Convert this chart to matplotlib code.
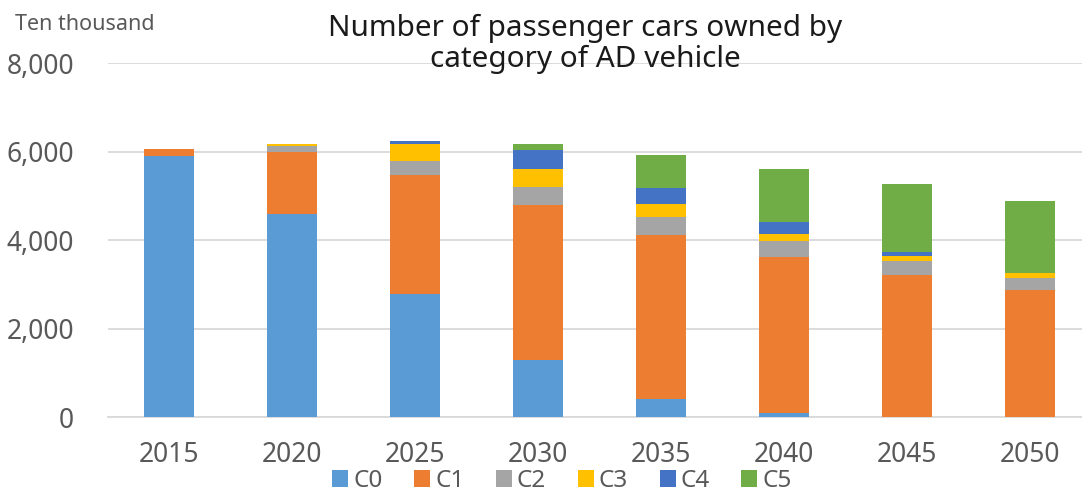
import matplotlib
matplotlib.use("Agg")
import matplotlib.pyplot as plt
import numpy as np

years = ["2015", "2020", "2025", "2030", "2035", "2040", "2045", "2050"]
series_names = ["C0", "C1", "C2", "C3", "C4", "C5"]
c0 = [5907, 4600, 2773, 1292, 406, 104, 0, 0]
c1 = [140, 1380, 2690, 3502, 3705, 3517, 3224, 2870]
c2 = [0, 135, 316, 406, 412, 361, 307, 278]
c3 = [0, 60, 383, 399, 302, 167, 106, 99]
c4 = [0, 0, 75, 428, 352, 261, 106, 0]
c5 = [0, 0, 0, 135, 737, 1204, 1533, 1637]
yticks = [0, 2000, 4000, 6000, 8000]

colors = ["#5B9BD5", "#ED7D31", "#A5A5A5", "#FFC000", "#4472C4", "#70AD47"]
font = ["Noto Sans", "DejaVu Sans"]
plt.rcParams["font.family"] = font

W, H = 1082, 492
fig = plt.figure(figsize=(W / 100, H / 100), dpi=100)
ax = fig.add_axes([107.5 / W, (H - 417.3) / H, (W - 107.5) / W, (417.3 - 63) / H])

x = np.arange(len(years))
bottom = np.zeros(len(years))
for name, vals, col in zip(series_names, [c0, c1, c2, c3, c4, c5], colors):
    vals = np.array(vals, dtype=float)
    ax.bar(x, vals, bottom=bottom, width=0.4, color=col, label=name, zorder=3)
    bottom += vals

ax.set_xlim(-0.5, -0.5 + (W - 107.5) / 123.0)
ax.set_ylim(0, 8000)
ax.set_yticks(yticks)
ax.set_yticklabels([f"{v:,}" for v in yticks])
ax.set_xticks(x)
ax.set_xticklabels(years)
ax.tick_params(axis="both", length=0, labelsize=19, colors="#595959")
ax.tick_params(axis="y", pad=24)
ax.tick_params(axis="x", pad=17)
ax.grid(axis="y", color="#D9D9D9", linewidth=1.3, zorder=0)
for s in ["top", "right", "left"]:
    ax.spines[s].set_visible(False)
ax.spines["bottom"].set_color("#D9D9D9")
ax.spines["bottom"].set_linewidth(1.3)

fig.text(15 / W, 1 - 24 / H, "Ten thousand", fontsize=15.5, color="#595959",
         ha="left", va="center")
fig.text(585 / W, 1 - 44 / H, "Number of passenger cars owned by\ncategory of AD vehicle",
         fontsize=21.4, color="#1a1a1a", ha="center", va="center", linespacing=1.07)

leg = fig.legend(loc="center", bbox_to_anchor=(562 / W, 1 - 481 / H), ncol=6,
                 frameon=False, fontsize=17.5, handlelength=0.66, handleheight=0.66,
                 handletextpad=0.2, columnspacing=1.3, labelcolor="#595959",
                 borderpad=0.1)

fig.savefig("out.png", dpi=100)
